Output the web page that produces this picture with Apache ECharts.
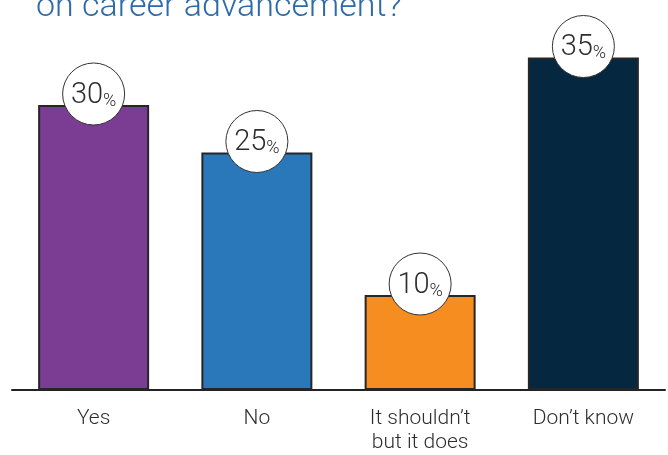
<!DOCTYPE html>
<html>
<head>
<meta charset="utf-8">
<script src="https://cdn.jsdelivr.net/npm/echarts@6/dist/echarts.min.js"></script>
<style>
  html, body { margin: 0; padding: 0; background: #fff; }
  #chart { width: 668px; height: 455px; }
</style>
</head>
<body>
<div id="chart"></div>
<script>
// Survey answers and their shares (percent)
const categories = ['Yes', 'No', 'It shouldn\u2019t\nbut it does', 'Don\u2019t know'];
const shares = [30, 25, 10, 35];
const barColors = ['#7b3c93', '#2a78b9', '#f68d20', '#052840'];

const FONT = 'Roboto, "Liberation Sans", Arial, sans-serif';

const chart = echarts.init(document.getElementById('chart'));
chart.setOption({
  animation: false,
  backgroundColor: '#ffffff',
  title: {
    text: 'on career advancement?',
    left: 31,
    top: -15,
    textStyle: { color: '#2d6aa9', fontSize: 34, fontWeight: 300, fontFamily: FONT }
  },
  grid: { left: 12, right: 3, top: 10, bottom: 63, containLabel: false },
  xAxis: {
    type: 'category',
    data: categories,
    axisLine: { lineStyle: { color: '#222', width: 2 } },
    axisTick: { show: false },
    axisLabel: {
      color: '#2e2e2e', fontSize: 21, fontFamily: FONT, fontWeight: 300,
      margin: 17, lineHeight: 24, interval: 0
    }
  },
  yAxis: {
    type: 'value', min: 0, max: 40,
    show: false,
    splitLine: { show: false }
  },
  series: [{
    type: 'bar',
    barWidth: 111,
    data: shares.map((v, i) => ({ value: v, itemStyle: { color: barColors[i] } })),
    itemStyle: { borderColor: '#262626', borderWidth: 2 }
  }, {
    // value badges: white circles sitting on each bar's top edge
    type: 'scatter',
    data: shares,
    symbol: 'circle',
    symbolSize: 62,
    symbolOffset: [0, -11],
    z: 5,
    itemStyle: { color: '#ffffff', borderColor: '#333', borderWidth: 1, opacity: 1 },
    emphasis: { disabled: true },
    label: {
      show: true,
      position: 'inside',
      formatter: p => '{n|' + p.value + '}{p|%}',
      rich: {
        n: { fontSize: 29, color: '#2e2e2e', fontFamily: FONT, fontWeight: 300, lineHeight: 32, verticalAlign: 'bottom' },
        p: { fontSize: 18, color: '#2e2e2e', fontFamily: FONT, fontWeight: 300, lineHeight: 26, verticalAlign: 'bottom' }
      }
    }
  }]
});
</script>
</body>
</html>
